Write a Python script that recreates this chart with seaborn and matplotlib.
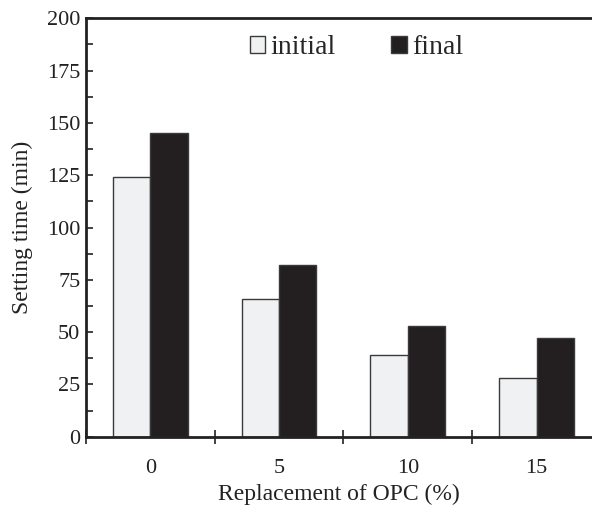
import pandas as pd
import numpy as np
import matplotlib.pyplot as plt
import seaborn as sns
from matplotlib.ticker import MultipleLocator, FixedLocator

replacement = ['0', '5', '10', '15']
initial = [124, 66, 39, 28]
final = [145, 82, 53, 47]

df = pd.DataFrame({
    'replacement': replacement * 2,
    'time': initial + final,
    'kind': ['initial'] * 4 + ['final'] * 4,
})

sns.set_style('white')
plt.rcParams['font.family'] = ['Liberation Serif', 'DejaVu Serif']
plt.rcParams['font.size'] = 16

fig = plt.figure(figsize=(5.92, 5.05), dpi=100)
ax = fig.add_axes([0.145, 0.135, 0.855, 0.829])

sns.barplot(df, x='replacement', y='time', hue='kind', ax=ax,
            palette={'initial': '#f0f1f3', 'final': '#231f20'},
            width=0.58, gap=0, edgecolor='#3a3a3a', linewidth=1,
            saturation=1)

ax.set_ylim(0, 200)
ax.set_xlim(-0.5, 3.43)
ax.yaxis.set_major_locator(MultipleLocator(25))
ax.yaxis.set_minor_locator(MultipleLocator(12.5))
ax.tick_params(axis='y', which='both', direction='in', length=5, width=1.2,
               left=True, pad=4, labelsize=16, colors='#222')
ax.tick_params(axis='x', which='major', length=0, pad=16, labelsize=16, colors='#222')
ax.xaxis.set_minor_locator(FixedLocator([-0.5, 0.5, 1.5, 2.5]))
ax.tick_params(axis='x', which='minor', direction='inout', length=10, width=1.2,
               bottom=True, color='#222')

for s in ['left', 'bottom', 'top']:
    ax.spines[s].set_linewidth(2)
    ax.spines[s].set_color('#222')
ax.spines['right'].set_visible(False)

ax.set_xlabel('Replacement of OPC (%)', fontsize=17, labelpad=4, color='#222')
ax.set_ylabel('Setting time (min)', fontsize=17, labelpad=10, color='#222')

handles, labels = ax.get_legend_handles_labels()
ax.legend(handles, labels, loc='center', bbox_to_anchor=(0.535, 0.93), ncol=2,
          frameon=False, fontsize=20, handlelength=0.55, handleheight=0.55,
          handletextpad=0.2, columnspacing=2.0)

plt.savefig('out.png', dpi=100)
